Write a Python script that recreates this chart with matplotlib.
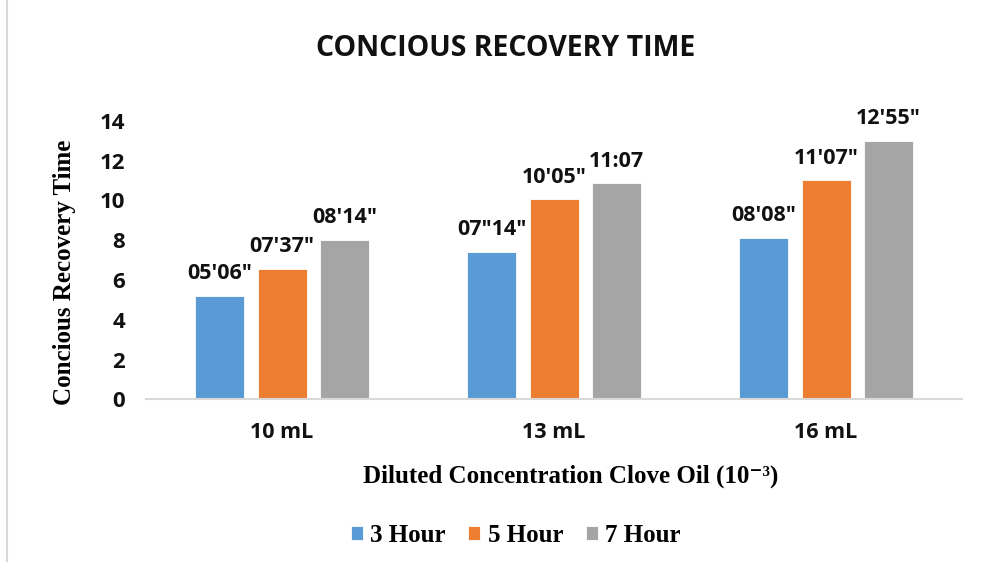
import numpy as np
import matplotlib
matplotlib.use("Agg")
import matplotlib.pyplot as plt
from matplotlib.lines import Line2D

# data
categories = ["10 mL", "13 mL", "16 mL"]
series_names = ["3 Hour", "5 Hour", "7 Hour"]
hour3 = [5.2, 7.4, 8.1]
hour5 = [6.55, 10.05, 11.0]
hour7 = [8.0, 10.85, 12.97]
labels3 = ["05'06\"", "07\"14\"", "08'08\""]
labels5 = ["07'37\"", "10'05\"", "11'07\""]
labels7 = ["08'14\"", "11:07", "12'55\""]

colors = ["#5B9BD5", "#ED7D31", "#A5A5A5"]
sans = "Open Sans"
serif = ["Liberation Serif", "DejaVu Serif"]

fig = plt.figure(figsize=(10.03, 5.62), dpi=100)
ax = fig.add_axes([0.1456, 0.2895, 0.8136, 0.4957])

x = np.arange(len(categories))
width = 0.18
step = 0.23
for i, (vals, labs) in enumerate(zip([hour3, hour5, hour7], [labels3, labels5, labels7])):
    pos = x + (i - 1) * step
    bars = ax.bar(pos, vals, width, color=colors[i], label=series_names[i],
                  edgecolor="white", linewidth=0.6)
    for b, lab in zip(bars, labs):
        ax.annotate(lab, (b.get_x() + b.get_width() / 2, b.get_height()),
                    xytext=(0, 8.5), textcoords="offset points",
                    ha="center", va="bottom", fontsize=15.5,
                    fontweight="bold", family=sans, color="#111111")

ax.set_xlim(-0.5, 2.5)
ax.set_ylim(0, 14)
ax.set_yticks(range(0, 15, 2))
ax.set_xticks(x)
ax.set_xticklabels(categories)
for t in ax.get_yticklabels() + ax.get_xticklabels():
    t.set_fontfamily(sans)
    t.set_fontweight("bold")
    t.set_color("#111111")
for t in ax.get_yticklabels():
    t.set_fontsize(16)
for t in ax.get_xticklabels():
    t.set_fontsize(15.5)
ax.tick_params(axis="y", length=0, pad=15)
ax.tick_params(axis="x", length=0, pad=16)

for s in ["top", "right", "left"]:
    ax.spines[s].set_visible(False)
ax.spines["bottom"].set_color("#D9D9D9")
ax.spines["bottom"].set_linewidth(1.5)

ax.set_ylabel("Concious Recovery Time", family=serif, fontweight="bold",
              fontsize=18, labelpad=17)
ax.yaxis.label.set_y(0.457)
ax.set_xlabel("Diluted Concentration Clove Oil (10\u207b\u00b3)",
              family=serif, fontweight="bold", fontsize=18, labelpad=16)
ax.xaxis.label.set_x(0.52)

fig.text(0.504, 0.914, "CONCIOUS RECOVERY TIME", ha="center", va="center",
         family=sans, fontweight="bold", fontsize=20.5, color="#111111")

leg = fig.legend(loc="center", bbox_to_anchor=(0.514, 0.048), ncol=3,
                 frameon=False, prop={"family": serif, "weight": "bold", "size": 18},
                 handlelength=0.48, handleheight=0.48, handletextpad=0.3,
                 columnspacing=0.9)

# light border on the left of the chart area
fig.add_artist(Line2D([7 / 1003, 7 / 1003], [0, 1], transform=fig.transFigure,
                      color="#D9D9D9", linewidth=1.5))

fig.savefig("out.png", dpi=100, facecolor="white")
